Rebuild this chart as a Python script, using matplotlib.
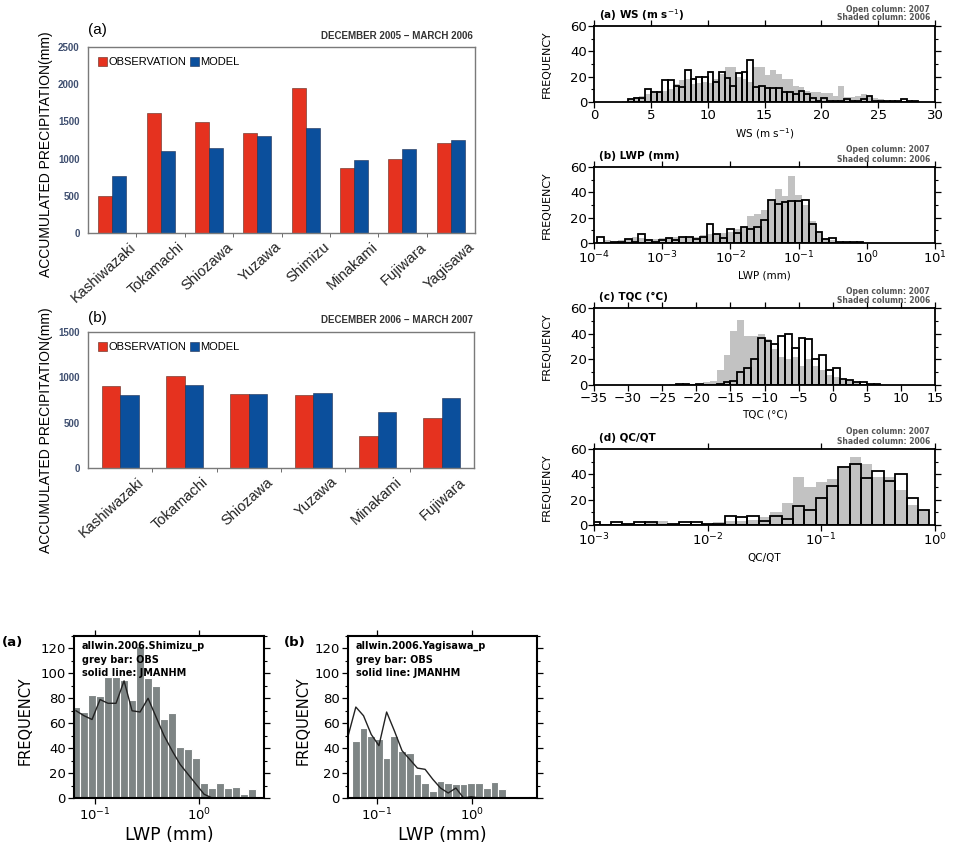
import numpy as np
import matplotlib.pyplot as plt
from matplotlib.transforms import ScaledTranslation
from matplotlib.ticker import MultipleLocator, LogLocator, NullLocator

plt.rcParams['font.family'] = ['Liberation Sans', 'DejaVu Sans']

# =============================================================================
# Data
# =============================================================================
SITES_0506 = ['Kashiwazaki', 'Tokamachi', 'Shiozawa', 'Yuzawa', 'Shimizu',
              'Minakami', 'Fujiwara', 'Yagisawa']
OBS_0506 = [500, 1607, 1486, 1339, 1950, 870, 995, 1213]
MODEL_0506 = [771, 1102, 1146, 1307, 1414, 977, 1133, 1253]

SITES_0607 = ['Kashiwazaki', 'Tokamachi', 'Shiozawa', 'Yuzawa', 'Minakami', 'Fujiwara']
OBS_0607 = [909, 1011, 813, 802, 350, 556]
MODEL_0607 = [810, 920, 813, 827, 622, 769]

# wind speed histogram, 0.5 m/s bins
WS_OPEN_START = 3.0
WS_OPEN = [2, 3, 3, 10, 8, 8, 17, 17, 13, 12, 25, 18, 20, 20, 24, 16, 24, 19,
           13, 23, 24, 33, 12, 13, 11, 11, 11, 8, 8, 6, 9, 6, 3, 1, 3, 1, 1, 1,
           2, 1, 1, 2, 5, 1, 1, 1, 1, 1, 2, 1, 1]
WS_SHADED_START = 2.0
WS_SHADED = [0, 1, 2, 4, 5, 6, 7, 8, 9, 10, 14, 17, 18, 14, 15, 16, 15, 18, 22,
             28, 28, 20, 18, 16, 28, 28, 21, 25, 22, 18, 18, 13, 12, 9, 8, 8, 7,
             7, 5, 13, 4, 4, 5, 6, 4, 3, 2, 1]

# LWP histogram, 0.1 decade bins starting at 10^-3.95
LWP_START = -3.95
LWP_OPEN = [5, 0, 1, 1, 3, 1, 7, 2, 1, 2, 4, 2, 5, 5, 3, 5, 15, 7, 4, 11, 8,
            13, 11, 13, 18, 34, 31, 32, 33, 33, 34, 15, 9, 3, 4, 0.5, 1, 1, 1]
LWP_SHADED = [1, 2, 1, 2, 3, 5, 4, 3, 3, 4, 4, 5, 5, 4, 5, 6, 7, 7, 8, 9, 11,
              12, 21, 23, 26, 33, 43, 37, 53, 38, 30, 17, 8, 4, 2, 1, 1, 0, 0]

# cloud temperature histogram, 1 degC bins
TQC_OPEN_START = -23
TQC_OPEN = [1, 1, 0, 1, 0, 0, 1, 2, 3, 10, 13, 20, 37, 34, 32, 38, 40, 29, 37,
            36, 20, 23, 12, 13, 5, 4, 2, 2, 1, 1]
TQC_SHADED_START = -24
TQC_SHADED = [1, 1, 1, 0, 1, 2, 3, 12, 23, 42, 51, 38, 38, 40, 36, 28, 22, 20,
              22, 15, 20, 15, 12, 8, 6, 4, 3, 2, 1]

# QC/QT histogram, 0.1 decade bins centred on 10^-3.0 ... 10^-0.1
QC_START = -3.05
QC_OPEN = [2, 0, 2, 1, 2, 2, 0, 1, 2, 2, 1, 1, 7, 6, 7, 3, 7, 5, 15, 12, 21,
           31, 46, 48, 37, 43, 35, 40, 21, 12]
QC_SHADED = [1, 0, 1, 1, 1, 2, 3, 1, 1, 1, 1, 2, 3, 3, 4, 6, 10, 17, 38, 30,
             34, 36, 45, 54, 48, 38, 38, 28, 16, 12]

# LWP frequency at two sites (allwin 2006)
SHIMIZU_START, SHIMIZU_STEP = -1.221, 0.0771
SHIMIZU_OBS = [73, 69, 83, 82, 97, 97, 95, 79, 122, 96, 90, 63, 68, 41, 39, 32,
               12, 8, 12, 8, 9, 3, 7, 1, 3]
SHIMIZU_MODEL = [70, 66, 63, 79, 76, 76, 94, 70, 69, 80, 65, 50, 38, 27, 19,
                 11, 3, 0]
YAGISAWA_START, YAGISAWA_STEP = -1.263, 0.081
YAGISAWA_OBS = [46, 56, 50, 47, 32, 50, 38, 36, 19, 12, 6, 14, 12, 11, 11, 12,
                12, 8, 13, 7.5, 1, 0, 0.5, 2]
# first value belongs to the bin just left of the axis
YAGISAWA_MODEL = [50, 73, 66, 51, 42, 69, 54, 38, 31, 24, 23, 15, 8, 4, 8, 0,
                  1, 0]

# =============================================================================
# Figure
# =============================================================================
W, H = 955, 846
fig = plt.figure(figsize=(W / 100, H / 100), dpi=100)


def px_axes(x0, y0, x1, y1):
    return fig.add_axes([x0 / W, 1 - y1 / H, (x1 - x0) / W, (y1 - y0) / H])


def ftext(x, y, s, **kw):
    fig.text(x / W, 1 - y / H, s, **kw)


RED = '#e5321f'
BLUE = '#0b4f9c'


# ── precipitation bar charts ─────────────────────────────────────────────────
def precip_panel(ax, sites, obs, model, ymax):
    n = len(sites)
    x = np.arange(n) + 0.5
    w = 0.29
    ax.bar(x - w / 2, obs, w, color=RED, edgecolor='#5a2a20', linewidth=0.4,
           label='OBSERVATION')
    ax.bar(x + w / 2, model, w, color=BLUE, edgecolor='#1d2d50', linewidth=0.4,
           label='MODEL')
    ax.set_xlim(0, n)
    ax.set_ylim(0, ymax)
    ax.set_yticks(np.arange(0, ymax + 1, 500))
    ax.tick_params(axis='y', length=0, pad=6, labelsize=7, labelcolor='#3f4f70')
    for t in ax.get_yticklabels():
        t.set_fontweight('bold')
    ax.set_xticks(x)
    ax.set_xticklabels(sites, rotation=42, ha='right', va='center',
                       rotation_mode='anchor', fontsize=10.5, color='#222222')
    ax.set_xticks(np.arange(1, n), minor=True)
    ax.tick_params(axis='x', which='major', length=0, pad=0)
    ax.tick_params(axis='x', which='minor', length=3, color='#555555')
    off = ScaledTranslation(22 / 100, -12 / 100, fig.dpi_scale_trans)
    for t in ax.get_xticklabels():
        t.set_transform(t.get_transform() + off)
    for s in ax.spines.values():
        s.set_color('#7a7a7a')
        s.set_linewidth(1.0)
    ax.legend(loc='upper left', ncol=2, frameon=False, fontsize=8,
              handlelength=0.8, handleheight=0.9, handletextpad=0.15,
              columnspacing=0.3, borderaxespad=0.5, bbox_to_anchor=(0.0, 1.0))


ax = px_axes(88, 47, 475, 233)
precip_panel(ax, SITES_0506, OBS_0506, MODEL_0506, 2500)
ftext(88, 30, '(a)', fontsize=11, va='center', ha='left')
ftext(473, 36, 'DECEMBER 2005 \u2212 MARCH 2006', fontsize=7,
      fontweight='bold', ha='right', va='center', color='#333333')
ftext(46, 154, 'ACCUMULATED PRECIPITATION(mm)', rotation=90, fontsize=10,
      ha='center', va='center')

ax = px_axes(88, 332, 474, 468)
precip_panel(ax, SITES_0607, OBS_0607, MODEL_0607, 1500)
ftext(88, 318, '(b)', fontsize=11, va='center', ha='left')
ftext(473, 320, 'DECEMBER 2006 \u2212 MARCH 2007', fontsize=7,
      fontweight='bold', ha='right', va='center', color='#333333')
ftext(46, 430, 'ACCUMULATED PRECIPITATION(mm)', rotation=90, fontsize=10,
      ha='center', va='center')


# ── frequency histograms (2006 shaded vs 2007 open) ──────────────────────────
WIDE = 'DejaVu Sans'


def freq_panel(top, bot, sh_edges, shaded, op_edges, opened, title, xlabel):
    ax = px_axes(594, top, 935, bot)
    ax.bar(sh_edges[:-1], shaded, width=np.diff(sh_edges), align='edge',
           color='#c2c2c2', linewidth=0, zorder=1)
    ax.bar(op_edges[:-1], opened, width=np.diff(op_edges), align='edge',
           fill=False, edgecolor='black', linewidth=1.3, zorder=2)
    ax.set_ylim(0, 60)
    ax.yaxis.set_major_locator(MultipleLocator(20))
    ax.yaxis.set_minor_locator(MultipleLocator(10))
    ax.tick_params(which='both', direction='out', top=True, right=True,
                   labeltop=False, labelright=False, labelsize=9.5, pad=1)
    ax.tick_params(which='major', length=4, width=0.9)
    ax.tick_params(which='minor', length=2.5, width=0.8)
    for s in ax.spines.values():
        s.set_linewidth(1.3)
    ax.set_xlabel(xlabel, fontsize=7.5, family=WIDE, labelpad=3)
    ftext(599, top - 11, title, fontsize=7.5, fontweight='bold', family=WIDE,
          ha='left', va='center')
    ftext(930, top - 17, 'Open column: 2007', fontsize=5.5, fontweight='bold',
          family=WIDE, ha='right', va='center', color='#555555')
    ftext(930, top - 8, 'Shaded column: 2006', fontsize=5.5, fontweight='bold',
          family=WIDE, ha='right', va='center', color='#555555')
    ftext(547, (top + bot) / 2, 'FREQUENCY', rotation=90,
          fontsize=8, family=WIDE, ha='center', va='center')
    return ax


def log_x(ax, lo, hi):
    ax.set_xscale('log')
    ax.set_xlim(lo, hi)
    ax.xaxis.set_major_locator(LogLocator(base=10, numticks=10))
    ax.xaxis.set_minor_locator(NullLocator())


def wide_ticks(ax):
    for t in ax.get_xticklabels() + ax.get_yticklabels():
        t.set_family(WIDE)


# (a) wind speed
e_op = WS_OPEN_START + 0.5 * np.arange(len(WS_OPEN) + 1)
e_sh = WS_SHADED_START + 0.5 * np.arange(len(WS_SHADED) + 1)
ax = freq_panel(26, 102, e_sh, WS_SHADED, e_op, WS_OPEN,
                '(a) WS (m s$^{-1}$)', 'WS (m s$^{-1}$)')
ax.set_xlim(0, 30)
ax.xaxis.set_major_locator(MultipleLocator(5))
wide_ticks(ax)

# (b) LWP
e = 10 ** (LWP_START + 0.1 * np.arange(len(LWP_OPEN) + 1))
ax = freq_panel(167, 243, e, LWP_SHADED, e, LWP_OPEN, '(b) LWP (mm)', 'LWP (mm)')
log_x(ax, 1e-4, 1e1)
wide_ticks(ax)

# (c) TQC
e_op = TQC_OPEN_START + np.arange(len(TQC_OPEN) + 1)
e_sh = TQC_SHADED_START + np.arange(len(TQC_SHADED) + 1)
ax = freq_panel(308, 385, e_sh, TQC_SHADED, e_op, TQC_OPEN,
                '(c) TQC (\u00b0C)', 'TQC (\u00b0C)')
ax.set_xlim(-35, 15)
ax.xaxis.set_major_locator(MultipleLocator(5))
wide_ticks(ax)

# (d) QC/QT
e = 10 ** (QC_START + 0.1 * np.arange(len(QC_OPEN) + 1))
ax = freq_panel(449, 525, e, QC_SHADED, e, QC_OPEN, '(d) QC/QT', 'QC/QT')
log_x(ax, 1e-3, 1e0)
wide_ticks(ax)


# ── LWP frequency, OBS bars vs JMANHM line ───────────────────────────────────
def lwp_panel(ax, start, step, obs, model, model_shift, lo, hi, site):
    edges = 10 ** (start + step * np.arange(len(obs) + 1))
    ax.bar(edges[:-1], obs, width=np.diff(edges), align='edge',
           color='#7e8585', edgecolor='white', linewidth=0.8)
    mx = 10 ** (start + step * (np.arange(len(model)) + 0.5 - model_shift))
    ax.plot(mx, model, color='#222222', linewidth=1.0)
    log_x(ax, 10 ** lo, 10 ** hi)
    ax.set_ylim(0, 130)
    ax.yaxis.set_major_locator(MultipleLocator(20))
    ax.yaxis.set_minor_locator(MultipleLocator(10))
    ax.tick_params(which='both', direction='out', top=True, right=True,
                   labeltop=False, labelright=False, labelsize=9.5, pad=2)
    ax.tick_params(which='major', length=4, width=0.9)
    ax.tick_params(which='minor', length=2.5, width=0.8)
    wide_ticks(ax)
    for s in ax.spines.values():
        s.set_linewidth(1.5)
    ax.set_xlabel('LWP (mm)', fontsize=12.5, family=WIDE, labelpad=2)
    ax.text(0.04, 0.97, 'allwin.2006.%s_p\ngrey bar: OBS\nsolid line: JMANHM'
            % site, transform=ax.transAxes, ha='left', va='top', fontsize=7,
            fontweight='bold', family=WIDE, linespacing=1.45)


ax = px_axes(74, 636, 264, 798)
lwp_panel(ax, SHIMIZU_START, SHIMIZU_STEP, SHIMIZU_OBS, SHIMIZU_MODEL, 0,
          -1.202, 0.628, 'Shimizu')
ftext(2, 642, '(a)', fontsize=9.5, fontweight='bold', family=WIDE,
      ha='left', va='center')
ftext(25, 721, 'FREQUENCY', rotation=90, fontsize=10.5, family=WIDE,
      ha='center', va='center')

ax = px_axes(348, 636, 537, 798)
lwp_panel(ax, YAGISAWA_START, YAGISAWA_STEP, YAGISAWA_OBS, YAGISAWA_MODEL, 1,
          -1.305, 0.684, 'Yagisawa')
ftext(284, 642, '(b)', fontsize=9.5, fontweight='bold', family=WIDE,
      ha='left', va='center')
ftext(303, 721, 'FREQUENCY', rotation=90, fontsize=10.5, family=WIDE,
      ha='center', va='center')

fig.savefig('out.png', dpi=100)
